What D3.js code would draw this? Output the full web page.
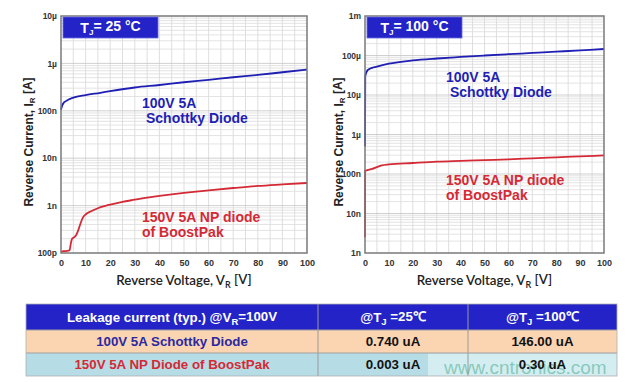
<!DOCTYPE html>
<html><head><meta charset="utf-8">
<script src="https://cdn.jsdelivr.net/npm/d3@7"></script>
<style>body{margin:0;background:#fff} svg{display:block}</style>
</head><body><svg id="c" width="627" height="382"></svg>
<script>
// ---- data ----
const schottky25V = [0,0.5,1,2,5,10,16,20,30,40,50,60,70,80,90,100];
const schottky25I = [1.05e-7,1.3e-7,1.45e-7,1.6e-7,1.9e-7,2.15e-7,2.4e-7,2.6e-7,3.1e-7,3.5e-7,4.0e-7,4.5e-7,5.1e-7,5.7e-7,6.5e-7,7.4e-7];
const np25V = [0,1,2,3,3.5,4,4.5,5,6,7,8,9,10,12,15,20,25,30,35,40,50,60,70,80,90,100];
const np25I = [1.05e-10,1.1e-10,1.1e-10,1.12e-10,1.15e-10,1.6e-10,2.0e-10,2.1e-10,2.3e-10,3.0e-10,4.3e-10,5.7e-10,6.5e-10,7.5e-10,8.8e-10,1.05e-9,1.2e-9,1.33e-9,1.48e-9,1.6e-9,1.85e-9,2.1e-9,2.35e-9,2.6e-9,2.8e-9,3.0e-9];
const schottky100V = [0,0.1,1,2,5,10,20,30,40,50,60,70,80,90,100];
const schottky100I = [5e-7,3e-5,4.2e-5,4.6e-5,5.2e-5,6.2e-5,7.5e-5,8.4e-5,9.2e-5,1.0e-4,1.08e-4,1.16e-4,1.25e-4,1.35e-4,1.46e-4];
const np100V = [0,0.05,1,3,5,7,10,20,30,40,50,60,70,80,90,100];
const np100I = [2.5e-9,1.2e-7,1.25e-7,1.35e-7,1.5e-7,1.65e-7,1.75e-7,1.9e-7,2.05e-7,2.15e-7,2.25e-7,2.35e-7,2.5e-7,2.65e-7,2.8e-7,2.95e-7];
const xTicks = [0,10,20,30,40,50,60,70,80,90,100];
const leftYTicks = [1e-10,1e-9,1e-8,1e-7,1e-6,1e-5];
const leftYLabels = ["100p","1n","10n","100n","1µ","10µ"];
const rightYTicks = [1e-9,1e-8,1e-7,1e-6,1e-5,1e-4,1e-3];
const rightYLabels = ["1n","10n","100n","1µ","10µ","100µ","1m"];
const tableHeader = ["Leakage current (typ.) @V_R=100V","@T_J =25℃","@T_J =100℃"];
const tableRowNames = ["100V  5A Schottky Diode","150V 5A NP Diode of BoostPak"];
const tableCol25 = ["0.740 uA","0.003 uA"];
const tableCol100 = ["146.00 uA","0.30 uA"];

const svg = d3.select("#c");
const FONT = "'Liberation Sans', Arial, sans-serif";
const BLUE = "#1f1fb4", RED = "#d42a35", HDR = "#2323c8";

function sub(sel, parts, small){
  parts.forEach((p,i)=>{
    const t = sel.append("tspan").text(p[0]);
    if(p[1]){ t.attr("font-size", small).attr("dy", "0.3em"); }
    else if(i>0 && parts[i-1][1]) t.attr("dy","-0.3em");
  });
}

function panel(o){
  const g = svg.append("g");
  const x = d3.scaleLinear().domain([0,100]).range([o.x0,o.x1]);
  const y = d3.scaleLog().domain(o.dom).range([253,16]);
  const gg = g.append("g").attr("stroke","#d6d6d6").attr("stroke-width",0.8);
  d3.range(5,100,5).forEach(v=>{
    gg.append("line").attr("x1",x(v)).attr("x2",x(v)).attr("y1",16).attr("y2",253);
  });
  const lo = Math.log10(o.dom[0]), hi = Math.log10(o.dom[1]);
  for(let e=lo;e<hi;e++){
    for(let m=1;m<10;m++){
      const v = m*Math.pow(10,e);
      if(m===1 && e===lo) continue;
      gg.append("line").attr("x1",o.x0).attr("x2",o.x1).attr("y1",y(v)).attr("y2",y(v))
        .attr("stroke", m===1?"#c4c4c4":"#dcdcdc");
    }
  }
  const ax = g.append("g").attr("transform",`translate(0,253)`)
    .call(d3.axisBottom(x).tickValues(xTicks).tickSize(0).tickPadding(7).tickFormat(d3.format("d")));
  ax.select(".domain").remove();
  ax.selectAll("text").attr("font-family",FONT).attr("font-size",9).attr("font-weight","bold").attr("fill","#333");
  const ay = g.append("g").attr("transform",`translate(${o.x0},0)`)
    .call(d3.axisLeft(y).tickValues(o.yt).tickSize(0).tickPadding(4).tickFormat((d,i)=>o.yl[i]));
  ay.select(".domain").remove();
  ay.selectAll("text").attr("font-family",FONT).attr("font-size",8.5).attr("font-weight","bold").attr("fill","#333");
  const line = d3.line().x(d=>x(d[0])).y(d=>y(d[1])).curve(d3.curveMonotoneX);
  g.append("path").datum(d3.zip(o.npV,o.npI)).attr("d",line).attr("fill","none").attr("stroke",RED).attr("stroke-width",1.8);
  g.append("path").datum(d3.zip(o.sV,o.sI)).attr("d",line).attr("fill","none").attr("stroke",BLUE).attr("stroke-width",1.8);
  g.append("rect").attr("x",o.x0).attr("y",16).attr("width",o.x1-o.x0).attr("height",237)
    .attr("fill","none").attr("stroke","#7a7a7a").attr("stroke-width",1.5);
  g.append("rect").attr("x",o.x0+2).attr("y",17).attr("width",95).attr("height",21).attr("fill",HDR)
    .attr("stroke","#6a6ae0").attr("stroke-width",0.8);
  const tt = g.append("text").attr("x",o.x0+2+47.5).attr("y",33).attr("text-anchor","middle")
    .attr("font-family",FONT).attr("font-size",14).attr("font-weight","bold").attr("fill","#fff");
  sub(tt,[["T",0],["J",1],[o.title,0]],8);
  const lab = (txt,xx,yy,c)=>g.append("text").attr("x",xx).attr("y",yy).text(txt)
    .attr("font-family",FONT).attr("font-size",14).attr("font-weight","bold").attr("fill",c);
  lab("100V 5A",o.sx,o.sy,BLUE); lab("Schottky Diode",o.sx+4,o.sy+15,BLUE);
  lab("150V 5A NP diode",o.nx,o.ny,RED); lab("of BoostPak",o.nx,o.ny+15,RED);
  const xt = g.append("text").attr("x",(o.x0+o.x1)/2).attr("y",285).attr("text-anchor","middle")
    .attr("font-family","Lato, 'Open Sans', sans-serif").attr("font-size",13.3).attr("font-weight","600").attr("fill","#222");
  sub(xt,[["Reverse Voltage, V",0],["R",1],[" [V]",0]],9);
  const yt = g.append("text").attr("transform",`translate(${o.ylx},142) rotate(-90)`).attr("text-anchor","middle")
    .attr("font-family",FONT).attr("font-size",12).attr("font-weight","bold").attr("fill","#222");
  sub(yt,[["Reverse Current, I",0],["R",1],[" [A]",0]],8);
}

panel({x0:61,x1:307,dom:[1e-10,1e-5],yt:leftYTicks,yl:leftYLabels,sV:schottky25V,sI:schottky25I,npV:np25V,npI:np25I,
  title:"= 25 °C",sx:142,sy:108,nx:142,ny:222,ylx:33});
panel({x0:365,x1:604,dom:[1e-9,1e-3],yt:rightYTicks,yl:rightYLabels,sV:schottky100V,sI:schottky100I,npV:np100V,npI:np100I,
  title:"= 100 °C",sx:446,sy:82,nx:446,ny:185,ylx:343});

// ---- table ----
const colX = [26,318,468,617];
const rowY = [304,330,353,376];
const rowFill = [HDR,"#fbd4b2","#b6dde6"];
const tg = svg.append("g");
rowFill.forEach((f,i)=>tg.append("rect").attr("x",colX[0]).attr("y",rowY[i]).attr("width",colX[3]-colX[0]).attr("height",rowY[i+1]-rowY[i]).attr("fill",f));
tg.append("rect").attr("x",428).attr("y",353.5).attr("width",189).attr("height",22.5).attr("fill","#d3edf1");
[1,2].forEach(i=>tg.append("line").attr("x1",colX[i]).attr("x2",colX[i]).attr("y1",rowY[0]).attr("y2",rowY[3]).attr("stroke","#9a9a9a").attr("stroke-width",1));
[1,2].forEach(i=>tg.append("line").attr("x1",colX[0]).attr("x2",colX[3]).attr("y1",rowY[i]).attr("y2",rowY[i]).attr("stroke","#a0a0a0").attr("stroke-width",1));
tg.append("rect").attr("x",colX[0]).attr("y",rowY[0]).attr("width",colX[3]-colX[0]).attr("height",rowY[3]-rowY[0]).attr("fill","none").attr("stroke","#b0b0b0").attr("stroke-width",0.8);
// watermark (under text)
tg.append("text").attr("x",444).attr("y",374).text("www.cntronics.com").attr("font-family",FONT).attr("font-size",19)
  .attr("fill","#3aa585").attr("fill-opacity",0.5);
const cell = (txt,ci,ri,c)=>tg.append("text").text(txt).attr("x",(colX[ci]+colX[ci+1])/2).attr("y",(rowY[ri]+rowY[ri+1])/2+4.8)
  .attr("text-anchor","middle").attr("font-family",FONT).attr("font-size",13.3).attr("font-weight","bold").attr("fill",c);
const splitSub = s=>{const m=s.split("_"); return m.length>1?[[m[0],0],[m[1][0],1],[m[1].slice(1),0]]:[[s,0]];};
tableHeader.forEach((h,i)=>sub(cell("",i,0,"#fff").attr("font-size",13.3),splitSub(h),9.5));
tableRowNames.forEach((n,i)=>cell(n,0,i+1,i===0?"#2a2aa0":"#d42a35"));
tableCol25.forEach((n,i)=>cell(n,1,i+1,"#111"));
tableCol100.forEach((n,i)=>cell(n,2,i+1,"#111"));
</script></body></html>
